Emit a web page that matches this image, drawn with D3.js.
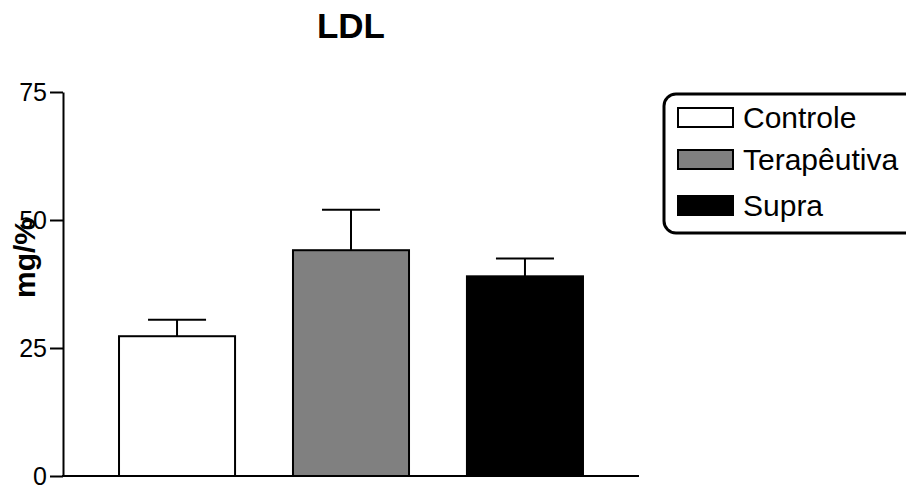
<!DOCTYPE html>
<html>
<head>
<meta charset="utf-8">
<script src="https://cdn.jsdelivr.net/npm/d3@7"></script>
<style>
html,body{margin:0;padding:0;background:#fff;}
svg{display:block;font-family:"Liberation Sans",Arial,sans-serif;}
</style>
</head>
<body>
<svg id="chart" width="906" height="485"></svg>
<script>
const categories = ["Controle", "Terapêutiva", "Supra"];
const means = [27.3, 44.1, 39.0];
const errors = [3.2, 7.9, 3.5];
const fills = ["#ffffff", "#808080", "#000000"];
const yTicks = [0, 25, 50, 75];
const title = "LDL";
const yLabel = "mg/%";

const svg = d3.select("#chart");
const x = d3.scaleBand().domain(categories).range([63, 639]).paddingInner(0.333).paddingOuter(0.322);
const y = d3.scaleLinear().domain([0, 75]).range([476, 92]);

// bars
svg.append("g").selectAll("rect").data(categories).join("rect")
  .attr("x", d => x(d))
  .attr("y", (d, i) => y(means[i]))
  .attr("width", x.bandwidth())
  .attr("height", (d, i) => y(0) - y(means[i]))
  .attr("fill", (d, i) => fills[i])
  .attr("stroke", "#000")
  .attr("stroke-width", 2);

// error bars
const eg = svg.append("g").attr("stroke", "#000").attr("stroke-width", 2);
categories.forEach((c, i) => {
  const cx = x(c) + x.bandwidth() / 2;
  eg.append("line").attr("x1", cx).attr("x2", cx).attr("y1", y(means[i])).attr("y2", y(means[i] + errors[i]));
  eg.append("line").attr("x1", cx - x.bandwidth() / 4).attr("x2", cx + x.bandwidth() / 4)
    .attr("y1", y(means[i] + errors[i])).attr("y2", y(means[i] + errors[i]));
});

// y axis
const yAxis = svg.append("g").attr("transform", "translate(63,0)")
  .call(d3.axisLeft(y).tickValues(yTicks).tickSize(13).tickPadding(3).tickSizeOuter(0));
yAxis.select(".domain").attr("stroke-width", 2);
yAxis.selectAll(".tick line").attr("stroke-width", 2);
yAxis.selectAll(".tick text").attr("font-size", 25).attr("fill", "#000")
  .attr("font-family", "Liberation Sans, Arial, sans-serif");

// x axis line
svg.append("line").attr("x1", 62).attr("x2", 639).attr("y1", y(0)).attr("y2", y(0))
  .attr("stroke", "#000").attr("stroke-width", 2);

// title
svg.append("text").attr("x", 351).attr("y", 38).attr("text-anchor", "middle")
  .attr("font-size", 35).attr("font-weight", "bold").text(title);

// y label
svg.append("text").attr("transform", "translate(35,258) rotate(-90)")
  .attr("text-anchor", "middle").attr("font-size", 30).attr("font-weight", "bold").text(yLabel);

// legend
svg.append("rect").attr("x", 664).attr("y", 94).attr("width", 270).attr("height", 139)
  .attr("rx", 12).attr("ry", 12).attr("fill", "#fff").attr("stroke", "#000").attr("stroke-width", 3);
const legendY = [108, 150, 196];
const lg = svg.append("g");
categories.forEach((c, i) => {
  lg.append("rect").attr("x", 678).attr("y", legendY[i]).attr("width", 55).attr("height", 19)
    .attr("fill", fills[i]).attr("stroke", "#000").attr("stroke-width", 2);
  lg.append("text").attr("x", 743).attr("y", legendY[i] + 20).attr("font-size", 30).text(c);
});
</script>
</body>
</html>
